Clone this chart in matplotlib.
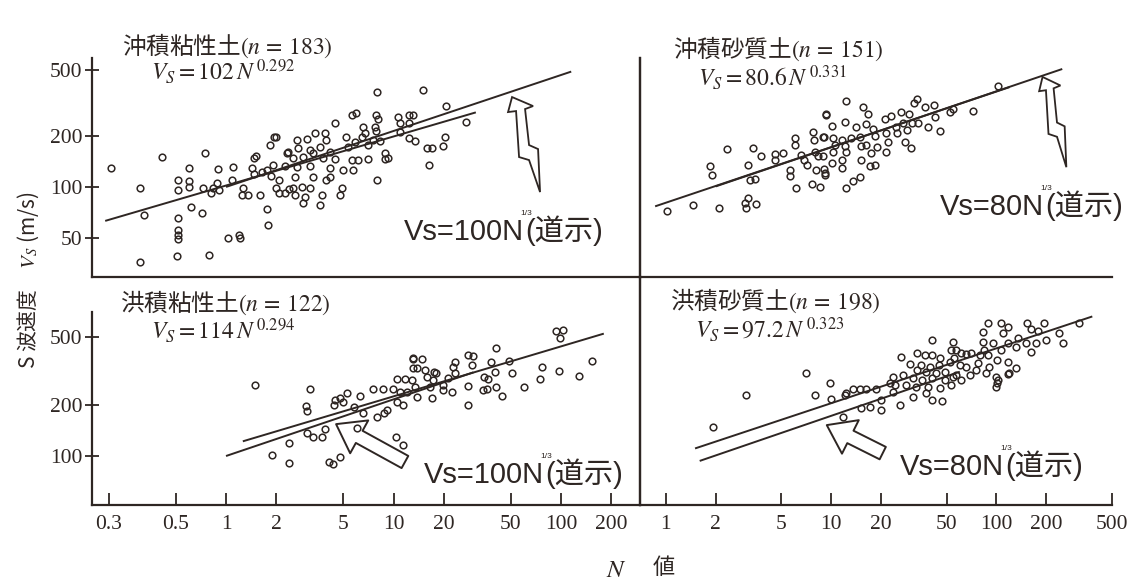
import numpy as np
import matplotlib
matplotlib.use("Agg")
import matplotlib.pyplot as plt
from matplotlib import transforms
from matplotlib.patches import FancyArrowPatch, Polygon
from matplotlib.ticker import NullLocator

plt.rcParams["font.family"] = ["Noto Sans CJK JP", "DejaVu Sans"]
plt.rcParams["mathtext.fontset"] = "stix"

# ---------------------------------------------------------------- data
# 沖積粘性土 (alluvial clay)
ul_n = [0.205, 0.307, 0.325, 0.307, 0.417, 0.514, 0.514, 0.514, 0.514, 0.514, 0.514, 0.508,
        0.605, 0.605, 0.605, 0.616, 0.716, 0.749, 0.732, 0.795, 0.81, 0.84, 0.899, 0.88, 0.912,
        1.03, 1.10, 1.09, 1.20, 1.22, 1.27, 1.24, 1.35, 1.46, 1.51, 1.42, 1.46, 1.60, 1.75, 1.79,
        1.83, 1.93, 2.0, 1.75, 1.92, 1.85, 2.08, 2.0, 2.08, 2.32, 2.38, 1.63,
        7.93, 14.9, 20.7, 27.0, 5.63, 5.97, 7.82, 8.1, 10.7, 12.3, 13.1, 10.9, 12.4, 4.48, 6.6,
        7.74, 3.4, 3.9, 6.76, 7.82, 10.9, 2.64, 3.03, 3.96, 5.2, 6.45, 7.5, 12.3, 13.4, 20.3,
        2.35, 2.7, 3.17, 3.64, 4.18, 5.35, 5.89, 7.07, 8.3, 15.8, 16.9, 19.8, 2.52, 2.89, 3.32,
        3.8, 4.48, 5.63, 6.17, 7.07, 8.9, 9.3, 8.9, 16.2, 2.25, 2.64, 3.17, 4.18, 4.97, 5.76,
        2.58, 3.29, 3.96, 4.18, 8.0, 2.52, 2.83, 3.17, 4.9, 2.58, 2.96, 3.72, 4.79, 2.87, 3.64, 2.25]
ul_vs = [129, 99, 68, 35.6, 150, 110, 96, 65, 55.5, 51.8, 48.8, 39,
         129, 109, 99.6, 76, 70, 159, 99, 39.4, 92, 98, 128, 105, 96,
         50, 132, 110, 52, 50, 98, 90, 90, 148, 152, 129, 120, 89, 74, 59,
         178, 198, 198, 126, 135, 116, 110, 98, 92, 160, 97, 123,
         370, 378, 303, 245, 270, 277, 268, 253, 260, 268, 268, 240, 242, 242, 228,
         228, 209, 209, 209, 216, 213, 190, 192, 190, 199, 198, 190, 195, 188, 198,
         162, 170, 166, 174, 162, 174, 186, 178, 188, 170, 170, 175, 148, 150, 159,
         148, 146, 145, 145, 147, 160, 148, 146, 136, 133, 132, 133, 129, 126, 127,
         115, 114, 110, 115, 110, 99, 100, 98, 98, 90, 87.5, 90, 90, 80, 78, 92]

# 沖積砂質土 (alluvial sand)
ur_n = [1.01, 1.46, 2.09, 1.86, 1.89, 2.33, 3.14, 3.37, 3.75, 3.22, 3.45, 3.14, 3.0, 3.07, 3.53,
        4.56, 4.56, 5.12, 5.61, 5.61, 6.15, 6.02, 6.06, 6.6, 6.83, 7.11, 7.62, 8.52, 7.76, 7.83,
        8.93, 9.33, 8.13, 9.0, 9.14, 7.95, 8.3,
        12.3, 15.6, 16.6, 9.33, 12.1, 10.1, 14.1, 16.2, 17.9, 21.1, 23.1, 26.6, 29.5, 31.6, 32.9,
        36.7, 41.7, 42.2, 52, 54.4, 71.9, 101.5, 30.9, 33.4, 27.1, 24.8, 38.3, 45.3, 28.6, 9.0,
        10.3, 11.7, 13.2, 14.9, 18.3, 21.5, 25.1, 10.5, 12.1, 15.2, 16.2, 18.9, 22.1, 27.8, 30.3,
        10.3, 12.3, 17.5, 21.5, 8.93, 10.1, 11.7, 15.2, 11.7, 17.1, 18.3, 9.14, 14.9, 13.5, 12.3]
ur_vs = [72.2, 78.1, 74.6, 133, 118, 168, 135, 170, 153, 110, 111, 85.6, 80, 74.6, 79.2,
         157, 145, 159, 126, 116, 98.2, 196, 178, 155, 145, 135, 104, 99.6, 212, 190,
         199, 268, 126, 128, 118, 162, 152,
         326, 300, 272, 272, 245, 232, 228, 237, 221, 253, 265, 278, 272, 315, 333,
         300, 308, 260, 281, 291, 285, 399, 241, 241, 239, 228, 228, 215, 218, 199,
         195, 190, 195, 199, 201, 209, 209, 178, 176, 176, 178, 174, 186, 186, 170,
         162, 162, 159, 162, 152, 139, 145, 145, 129, 133, 135, 121, 115, 108, 98]

# 洪積粘性土 (diluvial clay)
ll_n = [1.49, 3.17, 3.0, 3.06, 2.39, 1.88, 2.39, 3.03, 3.32, 3.72, 3.9, 4.14, 4.37, 4.79, 4.42,
        4.48, 4.79, 5.3, 5.02, 5.81, 6.31, 6.55, 6.03, 7.5, 8.69, 9.99, 10.45, 11.7, 13.0, 13.0,
        9.1, 7.94, 8.8, 10.45, 11.43, 10.35, 11.43, 10.94, 11.98,
        93, 103, 98.6, 154, 128, 97.8, 76.5, 74.9, 60.1, 50.8, 49.1, 41.0, 38.1, 40.4, 44.4,
        41.0, 36.8, 34.7, 34.1, 36.3, 27.9, 29.7, 29.3, 27.9, 27.9, 23.3, 22.7, 23.3, 22.2, 19.8,
        21.0, 17.9, 17.4, 15.4, 14.7, 13.1, 13.8, 15.8, 17.2, 16.4, 13.44, 13.8, 16.9, 19.8, 12.9]
ll_vs = [262, 248, 197, 184, 119, 101, 90.6, 137, 130, 130, 143.5, 92.6, 89.7, 99, 199.5,
         213.5, 218.5, 236, 208.6, 193.5, 225, 178.5, 145.5, 247, 249.5, 249.5, 282.5, 282.5, 376, 328.5,
         186.5, 170, 178.5, 208.6, 199.5, 130, 116, 239, 239,
         545, 551, 493, 362, 295, 316, 335, 284, 256, 306, 364, 430, 355, 313, 225,
         256, 282.5, 293, 244.5, 247, 393, 388, 343, 258, 199.5, 359, 335, 307, 239, 244.5,
         287, 307, 313, 321, 370, 370, 328, 293, 280, 256, 253, 221.5, 218.5, 262, 280]

# 洪積砂質土 (diluvial sand)
lr_n = [1.93, 3.04, 7.01, 7.95, 9.89, 10.0, 11.8, 12.06, 13.5, 14.87, 16.3, 18.7, 20.1, 15.2,
        17.1, 22.6, 23.6, 20.1, 12.3,
        88.6, 106.7, 117, 154, 195, 162, 178, 317, 251, 240, 198, 173, 151, 135, 132, 162, 117,
        108.8, 106.7, 95, 82.6, 82.6, 84.6, 89, 100.3, 117, 79, 77.5, 70.2, 65.8, 75.3, 86.6, 90.7,
        99.2, 100.6, 119.8, 131.2, 54.4, 57.2, 61.3, 55.7, 52, 59.75, 65.8, 68.7, 61.3, 57.2, 41,
        33.2, 36.7, 41, 45.3, 26.4, 29.8, 35, 39.4, 44.8, 48.5, 43.3, 37.6, 33.2, 23.6, 27.1, 31.1,
        35.6, 41, 48.5, 54.4, 24.2, 28.3, 32.5, 38.3, 45.3, 52.8, 41, 46.5, 25.9, 37.6, 31.1, 99.2,
        101.5, 117, 52.8]
lr_vs = [148.6, 228.5, 309, 228.5, 270, 215.5, 170, 228.5, 247, 247, 247, 249.5, 213.5, 191,
         193.5, 267.5, 239, 186.5, 234,
         603, 608, 576, 608, 603, 556, 545, 608, 460, 527, 481, 464, 464, 492, 440, 411, 460,
         527, 420, 460, 539, 470, 420, 393, 367, 359, 393, 351, 402, 398, 321, 309, 334,
         290, 270, 306, 328, 470, 420, 402, 376, 359, 343, 335, 300, 280, 300, 481,
         402, 393, 393, 376, 383, 348, 343, 335, 343, 313, 307, 313, 321, 293, 300, 287,
         280, 287, 280, 293, 262, 262, 253, 253, 250, 262, 213.5, 211, 199.5, 234, 223, 256,
         280, 303, 420]

# power-law fits Vs = a * N**b and the road-spec (道示) relations, with their N ranges
ul_fit = (102, 0.292, 0.19, 31)
ul_spec = (100, 1 / 3, 1.0, 115)
ur_fit = (80.6, 0.331, 0.86, 120)
ur_spec = (80, 1 / 3, 2.0, 250)
ll_fit = (114, 0.294, 1.26, 180)
ll_spec = (100, 1 / 3, 1.0, 30)
lr_fit = (97.2, 0.323, 1.5, 380)
lr_spec = (80, 1 / 3, 1.6, 60)

left_ticks = [0.2, 0.5, 1, 2, 5, 10, 20, 50, 100, 200]
left_tick_labels = ["0.3", "0.5", "1", "2", "5", "10", "20", "50", "100", "200"]
right_ticks = [1, 2, 5, 10, 20, 50, 100, 200, 500]
right_tick_labels = ["1", "2", "5", "10", "20", "50", "100", "200", "500"]
upper_vticks = [50, 100, 200, 500]
lower_vticks = [100, 200, 500]

# ---------------------------------------------------------------- layout
W, H, DPI = 1129, 581, 100
INK = "#2e2623"
SERIF = "Liberation Serif"

fig = plt.figure(figsize=(W / DPI, H / DPI), dpi=DPI, facecolor="white")


def fx(px):
    return px / W


def fy(py):
    return 1.0 - py / H


def make_axes(x0, x1, y0, y1, xlim, ylim, spines):
    ax = fig.add_axes([fx(x0), fy(y1), fx(x1) - fx(x0), fy(y0) - fy(y1)])
    ax.set_xscale("log")
    ax.set_yscale("log")
    ax.set_xlim(*xlim)
    ax.set_ylim(*ylim)
    ax.patch.set_alpha(0)
    for name, s in ax.spines.items():
        s.set_color(INK)
        s.set_linewidth(1.6)
        s.set_visible(name in spines)
    ax.xaxis.set_minor_locator(NullLocator())
    ax.yaxis.set_minor_locator(NullLocator())
    ax.tick_params(which="both", length=0, labelbottom=False, labelleft=False, colors=INK)
    return ax


LEFT_X = (0.1585, 296)
RIGHT_X = (0.6965, 500)
UPPER_Y = (29.1, 586)
LOWER_Y = (51.5, 1130)

ax_ul = make_axes(92, 640, 58, 277, LEFT_X, UPPER_Y, ("left", "bottom", "right"))
ax_ur = make_axes(640, 1112, 58, 277, RIGHT_X, UPPER_Y, ("left", "bottom"))
ax_ll = make_axes(92, 640, 277, 505, LEFT_X, LOWER_Y, ("left", "bottom", "right"))
ax_lr = make_axes(640, 1112, 277, 505, RIGHT_X, LOWER_Y, ("left", "bottom"))
ax_ll.spines["left"].set_bounds(LOWER_Y[0], 703)

for ax, ticks in ((ax_ul, upper_vticks), (ax_ll, lower_vticks)):
    ax.set_yticks(ticks, [str(t) for t in ticks], fontsize=15.5, fontfamily=SERIF)
    ax.yaxis.set_minor_locator(NullLocator())
    ax.tick_params(axis="y", length=10, width=1.3, direction="inout", labelleft=True, pad=2)

for ax, ticks, labels in ((ax_ll, left_ticks, left_tick_labels), (ax_lr, right_ticks, right_tick_labels)):
    ax.set_xticks(ticks, labels, fontsize=15.5, fontfamily=SERIF)
    ax.xaxis.set_minor_locator(NullLocator())
    ax.tick_params(axis="x", length=9, width=1.3, direction="in", labelbottom=True, pad=7)


def draw_panel(ax, n, vs, fit, spec):
    ax.plot(n, vs, linestyle="none", marker="o", ms=4.8, mfc="none", mec=INK, mew=1.1,
            clip_on=False)
    for coef, expo, lo, hi in (fit, spec):
        nn = np.geomspace(lo, hi, 60)
        ax.plot(nn, coef * nn ** expo, color=INK, lw=1.4, solid_capstyle="butt")


draw_panel(ax_ul, ul_n, ul_vs, ul_fit, ul_spec)
draw_panel(ax_ur, ur_n, ur_vs, ur_fit, ur_spec)
draw_panel(ax_ll, ll_n, ll_vs, ll_fit, ll_spec)
draw_panel(ax_lr, lr_n, lr_vs, lr_fit, lr_spec)

# ---------------------------------------------------------------- annotations
BOLT = np.array([(0, 0), (21, 9), (13, 12), (17, 48), (26, 52), (28, 95),
                 (17, 63), (7, 60), (4, 14), (-4, 15)], float)


def bolt_arrow(ax, tip, sx=1.0, sy=1.0):
    verts = BOLT * np.array([sx, -sy])
    tr = transforms.ScaledTranslation(tip[0], tip[1], ax.transData)
    ax.add_patch(Polygon(verts, closed=True, facecolor="white", edgecolor=INK, lw=1.3,
                         transform=tr, clip_on=False))


def hollow_arrow(ax, tail, tip):
    ax.add_patch(FancyArrowPatch(tail, tip,
                                 arrowstyle="simple,head_length=19,head_width=27,tail_width=10",
                                 mutation_scale=1, facecolor="white", edgecolor=INK, lw=1.4,
                                 shrinkA=0, shrinkB=0, clip_on=False))


bolt_arrow(ax_ul, (51.0, 343))
bolt_arrow(ax_ur, (190, 452), 0.85, 0.95)
hollow_arrow(ax_ll, (11.7, 92.2), (4.54, 154))
hollow_arrow(ax_lr, (20.5, 104), (9.4, 152))

renderer = fig.canvas.get_renderer()


def spec_label(x, y, head):
    kw = dict(fontsize=21, family=["Liberation Sans", "Noto Sans CJK JP"], color=INK,
              va="baseline", ha="left")
    t = fig.text(fx(x), fy(y), head, **kw)
    bb = t.get_window_extent(renderer=renderer)
    fig.text((bb.x1 + 1) / W, fy(y), "(道示)", **kw)
    fig.text((bb.x1 + 2) / W, (bb.y1 + 1) / H, "1/3", fontsize=6, family="Liberation Sans",
             color=INK, ha="center", va="bottom")


spec_label(404, 240, "Vs=100N")
spec_label(940, 215, "Vs=80N")
spec_label(424, 483, "Vs=100N")
spec_label(900, 475, "Vs=80N")

title_kw = dict(fontsize=17, color=INK, ha="left", va="center")
fig.text(fx(122), fy(46), r"沖積粘性土$(n\,=\,183)$", **title_kw)
fig.text(fx(151), fy(72), r"$V_S=102\,N^{\,0.292}$", **title_kw)
fig.text(fx(673), fy(49), r"沖積砂質土$(n\,=\,151)$", **title_kw)
fig.text(fx(698), fy(78), r"$V_S=80.6\,N^{\,0.331}$", **title_kw)
fig.text(fx(120), fy(303), r"洪積粘性土$(n\,=\,122)$", **title_kw)
fig.text(fx(151), fy(331), r"$V_S=114\,N^{\,0.294}$", **title_kw)
fig.text(fx(670), fy(301), r"洪積砂質土$(n\,=\,198)$", **title_kw)
fig.text(fx(695), fy(330), r"$V_S=97.2\,N^{\,0.323}$", **title_kw)

fig.text(fx(28), fy(280), "S 波速度　$V_S$ (m/s)", fontsize=15, color=INK, rotation=90,
         ha="center", va="center")
fig.text(fx(616), fy(570), r"$N$", fontsize=18, color=INK, ha="center", va="center")
fig.text(fx(664), fy(568), "値", fontsize=16, color=INK, ha="center", va="center")

fig.savefig("out.png", dpi=DPI, facecolor="white")
